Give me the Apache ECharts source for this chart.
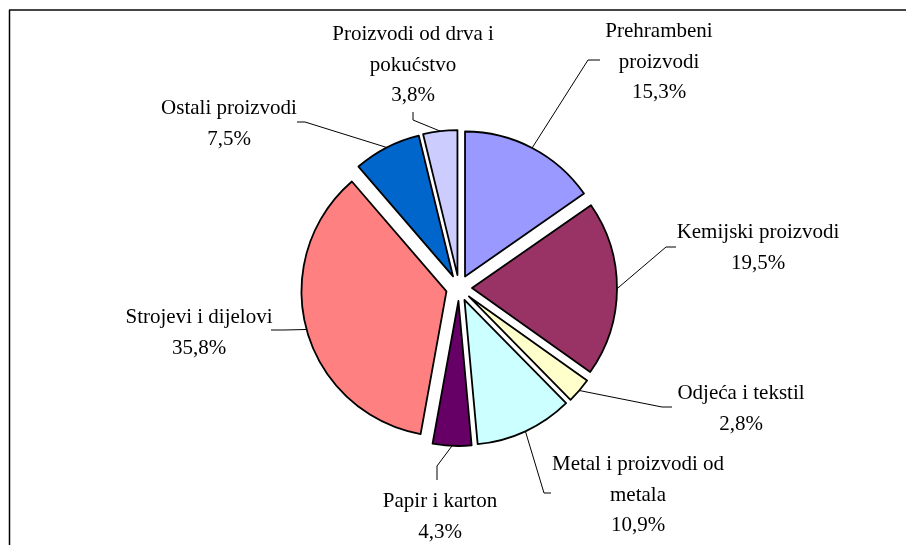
<!DOCTYPE html>
<html>
<head>
<meta charset="utf-8">
<script src="https://cdn.jsdelivr.net/npm/echarts@6/dist/echarts.min.js"></script>
<style>
html,body{margin:0;padding:0;background:#fff;}
#chart{width:906px;height:545px;}
</style>
</head>
<body>
<div id="chart"></div>
<script>
// ---- data ----
var categories = [
  'Prehrambeni\nproizvodi',
  'Kemijski proizvodi',
  'Odjeća i tekstil',
  'Metal i proizvodi od\nmetala',
  'Papir i karton',
  'Strojevi i dijelovi',
  'Ostali proizvodi',
  'Proizvodi od drva i\npokućstvo'
];
var shares = [15.3, 19.5, 2.8, 10.9, 4.3, 35.8, 7.5, 3.8];

// ---- styling ----
var colors = ['#9999FF', '#993366', '#FFFFCC', '#CCFFFF', '#660066', '#FF8080', '#0066CC', '#CCCCFF'];
var labelCenters = [
  [659, 62], [758, 248], [741, 409], [638, 495],
  [440, 517], [199, 333], [229, 124], [413, 65]
];
// leader line: elbow point and end point near each label
var leaderElbow = [
  [588, 60], [666, 247], [662, 407], [544, 493],
  [437, 466], [284, 330], [305, 122], [413, 120]
];
var leaderEnd = [
  [600, 60], [676, 247], [672, 407], [551, 493],
  [437, 480], [271, 330], [297, 122], [413, 112]
];
var OFFSET = 13;

var chart = echarts.init(document.getElementById('chart'), null, {renderer: 'canvas'});

var data = categories.map(function (c, i) {
  return {
    name: c,
    value: shares[i],
    selected: true,
    itemStyle: {color: colors[i]}
  };
});

var borders = [
  {type: 'line', shape: {x1: 9, y1: 10, x2: 906, y2: 10}, style: {stroke: '#444', lineWidth: 2}},
  {type: 'line', shape: {x1: 9.5, y1: 10, x2: 9.5, y2: 545}, style: {stroke: '#000', lineWidth: 1.5}}
];

chart.setOption({
  animation: false,
  backgroundColor: '#ffffff',
  graphic: borders,
  series: [{
    type: 'pie',
    center: [459, 288],
    radius: [0, 145],
    startAngle: 90,
    clockwise: true,
    selectedMode: 'multiple',
    selectedOffset: OFFSET,
    avoidLabelOverlap: false,
    itemStyle: {borderColor: '#000', borderWidth: 1.8},
    select: {itemStyle: {borderColor: '#000', borderWidth: 1.8}},
    emphasis: {disabled: true},
    label: {show: false},
    labelLine: {show: false},
    data: data
  }]
});

// Labels and leader lines, anchored on the sector layout computed by ECharts
var seriesData = chart.getModel().getSeriesByIndex(0).getData();
var extra = [];
categories.forEach(function (c, i) {
  var lay = seriesData.getItemLayout(i);
  var mid = (lay.startAngle + lay.endAngle) / 2;
  var cx = lay.cx + Math.cos(mid) * OFFSET;
  var cy = lay.cy + Math.sin(mid) * OFFSET;
  var px = cx + Math.cos(mid) * lay.r;
  var py = cy + Math.sin(mid) * lay.r;
  extra.push({
    type: 'polyline',
    shape: {points: [[px, py], leaderElbow[i], leaderEnd[i]]},
    style: {stroke: '#000', lineWidth: 1, fill: null},
    z: 10
  });
  extra.push({
    type: 'text',
    x: labelCenters[i][0],
    y: labelCenters[i][1],
    style: {
      text: c + '\n' + String(shares[i]).replace('.', ',') + '%',
      fontFamily: 'Liberation Serif',
      fontSize: 21,
      lineHeight: 30.5,
      fill: '#000',
      align: 'center',
      verticalAlign: 'middle'
    },
    z: 10
  });
});
chart.setOption({graphic: borders.concat(extra)});
</script>
</body>
</html>
